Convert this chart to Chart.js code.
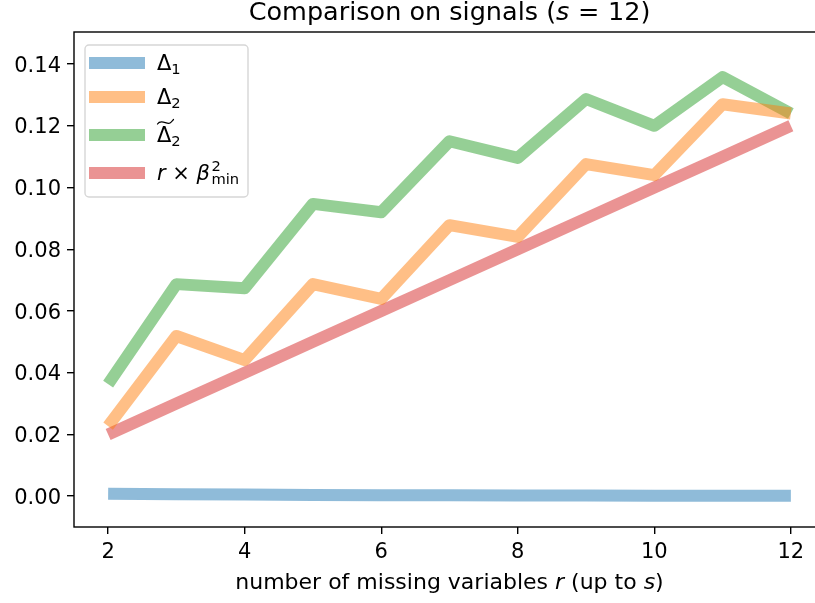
<!DOCTYPE html>
<html>
<head>
<meta charset="utf-8">
<script src="https://cdn.jsdelivr.net/npm/chart.js@4"></script>
<style>
  html, body { margin: 0; padding: 0; background: #fff; overflow: hidden; }
  canvas { display: block; }
</style>
</head>
<body>
<canvas id="chart" width="826" height="603"></canvas>
<script>
// valeurs
const rValues = [2, 3, 4, 5, 6, 7, 8, 9, 10, 11, 12];
const delta1 = [0.0008, 0.0006, 0.0005, 0.0004, 0.0003, 0.0003, 0.0002, 0.0002, 0.0001, 0.0001, 0.0001];
const delta2 = [0.0227, 0.0519, 0.0441, 0.0687, 0.0639, 0.0878, 0.0840, 0.1076, 0.1040, 0.1270, 0.1240];
const delta2Tilde = [0.0363, 0.0687, 0.0674, 0.0947, 0.0920, 0.1150, 0.1096, 0.1287, 0.1200, 0.1358, 0.1240];
const rBetaMin = [0.02, 0.03, 0.04, 0.05, 0.06, 0.07, 0.08, 0.09, 0.10, 0.11, 0.12];
const xTicks = [2, 4, 6, 8, 10, 12];
const yTicks = [0.00, 0.02, 0.04, 0.06, 0.08, 0.10, 0.12, 0.14];
const labels = ["Δ1", "Δ2", "Δ̃2", "r × β²min"];

const colors = [
  "rgba(31,119,180,0.5)",
  "rgba(255,127,14,0.5)",
  "rgba(44,160,44,0.5)",
  "rgba(214,39,40,0.5)"
];

const FONT = "DejaVu Sans";
const FS = 21;       // taille des graduations et de la légende
const FS_LABEL = 22;
const FS_TITLE = 25.5;

function toPoints(ys) {
  return rValues.map((r, i) => ({ x: r, y: ys[i] }));
}

// suite de morceaux de texte (normal / italique / indice / exposant)
function drawRich(ctx, parts, x, y, size, align) {
  const fontOf = p => {
    const s = p.sub || p.sup ? size * 0.7 : size;
    return (p.it ? "oblique " : "") + s + "px '" + FONT + "'";
  };
  let w = 0;
  parts.forEach(p => {
    ctx.font = fontOf(p);
    if (!p.noAdvance) w += ctx.measureText(p.t).width + (p.dx || 0);
  });
  let cx = x;
  if (align === "center") cx = x - w / 2;
  if (align === "right") cx = x - w;
  ctx.textBaseline = "alphabetic";
  ctx.textAlign = "left";
  parts.forEach(p => {
    ctx.font = fontOf(p);
    let dy = 0;
    if (p.sub) dy = size * 0.2;
    if (p.sup) dy = -size * 0.42;
    ctx.fillText(p.t, cx + (p.dx || 0), y + dy);
    if (!p.noAdvance) cx += ctx.measureText(p.t).width + (p.dx || 0);
  });
}

const decorPlugin = {
  id: "decor",
  afterDraw(chart) {
    const { ctx, chartArea: a } = chart;
    const xs = chart.scales.x, ys = chart.scales.y;
    ctx.save();
    // cadre
    ctx.strokeStyle = "#000";
    ctx.lineWidth = 1.4;
    ctx.strokeRect(a.left, a.top, a.right - a.left, a.bottom - a.top);
    ctx.fillStyle = "#000";

    // étiquettes des graduations
    xs.ticks.forEach((t, i) => {
      drawRich(ctx, [{ t: String(t.value) }], xs.getPixelForTick(i), 558, FS, "center");
    });
    ys.ticks.forEach((t, i) => {
      drawRich(ctx, [{ t: t.value.toFixed(2) }], a.left - 13, ys.getPixelForTick(i) + 7.6, FS, "right");
    });

    const cx = (a.left + a.right) / 2;
    // titre
    drawRich(ctx, [
      { t: "Comparison on signals (" },
      { t: "s", it: true },
      { t: " = ", dx: 0.5 },
      { t: "12)", dx: 0.5 }
    ], cx, 20, FS_TITLE, "center");
    // titre de l'axe x
    drawRich(ctx, [
      { t: "number of missing variables " },
      { t: "r", it: true },
      { t: " (up to " },
      { t: "s", it: true },
      { t: ")" }
    ], cx, 589, FS_LABEL, "center");

    // légende
    const bx = 85, by = 45, bw = 163, bh = 152, rad = 4;
    ctx.beginPath();
    ctx.moveTo(bx + rad, by);
    ctx.arcTo(bx + bw, by, bx + bw, by + bh, rad);
    ctx.arcTo(bx + bw, by + bh, bx, by + bh, rad);
    ctx.arcTo(bx, by + bh, bx, by, rad);
    ctx.arcTo(bx, by, bx + bw, by, rad);
    ctx.closePath();
    ctx.fillStyle = "rgba(255,255,255,0.8)";
    ctx.fill();
    ctx.strokeStyle = "rgba(204,204,204,0.8)";
    ctx.lineWidth = 1.4;
    ctx.stroke();

    const rows = [63, 97, 135, 173];
    const texts = [
      [{ t: "Δ" }, { t: "1", sub: true }],
      [{ t: "Δ" }, { t: "2", sub: true }],
      [{ t: "Δ" }, { t: "2", sub: true }],
      [{ t: "r", it: true }, { t: " × " }, { t: "β", it: true },
       { t: "2", sup: true, dx: 1.5, noAdvance: true }, { t: "min", sub: true, dx: 1.5 }]
    ];
    rows.forEach((ry, i) => {
      ctx.strokeStyle = colors[i];
      ctx.lineWidth = 12;
      ctx.lineCap = "butt";
      ctx.beginPath();
      ctx.moveTo(89, ry);
      ctx.lineTo(145, ry);
      ctx.stroke();
      ctx.fillStyle = "#000";
      drawRich(ctx, texts[i], 157, ry + 6.5, FS, "left");
    });
    // tilde large au-dessus du Delta
    ctx.strokeStyle = "#000";
    ctx.lineWidth = 1.2;
    ctx.lineCap = "round";
    ctx.beginPath();
    ctx.moveTo(157.5, 124);
    ctx.bezierCurveTo(161, 118.5, 167, 125, 170, 123);
    ctx.bezierCurveTo(171.5, 122, 172.5, 120.5, 173.5, 119.5);
    ctx.stroke();
    ctx.restore();
  }
};

const datasets = [delta1, delta2, delta2Tilde, rBetaMin].map((ys, i) => ({
  label: labels[i],
  data: toPoints(ys),
  borderColor: colors[i],
  backgroundColor: colors[i],
  borderWidth: 12,
  borderJoinStyle: "round",
  borderCapStyle: "butt",
  pointRadius: 0,
  tension: 0,
  fill: false
}));

const ctx = document.getElementById("chart").getContext("2d");
new Chart(ctx, {
  type: "line",
  data: { datasets: datasets },
  options: {
    responsive: false,
    animation: false,
    layout: { padding: { top: 32, right: 1, left: 0, bottom: 0 } },
    plugins: {
      legend: { display: false },
      title: { display: false },
      tooltip: { enabled: false }
    },
    scales: {
      x: {
        type: "linear",
        min: 1.5,
        max: 12.5,
        afterBuildTicks: s => { s.ticks = xTicks.map(v => ({ value: v })); },
        afterFit: s => { s.height = 76; },
        border: { display: false },
        grid: { display: true, drawOnChartArea: false, drawTicks: true, tickLength: 7, color: "#000", lineWidth: 1.4 },
        ticks: { color: "rgba(0,0,0,0)", font: { family: FONT, size: FS }, padding: 4, maxRotation: 0 }
      },
      y: {
        min: -0.01,
        max: 0.1504,
        afterBuildTicks: s => { s.ticks = yTicks.map(v => ({ value: v })); },
        afterFit: s => { s.width = 74; },
        border: { display: false },
        grid: { display: true, drawOnChartArea: false, drawTicks: true, tickLength: 7, color: "#000", lineWidth: 1.4 },
        ticks: { color: "rgba(0,0,0,0)", font: { family: FONT, size: FS }, padding: 6, callback: v => v.toFixed(2) }
      }
    }
  },
  plugins: [decorPlugin]
});
</script>
</body>
</html>
